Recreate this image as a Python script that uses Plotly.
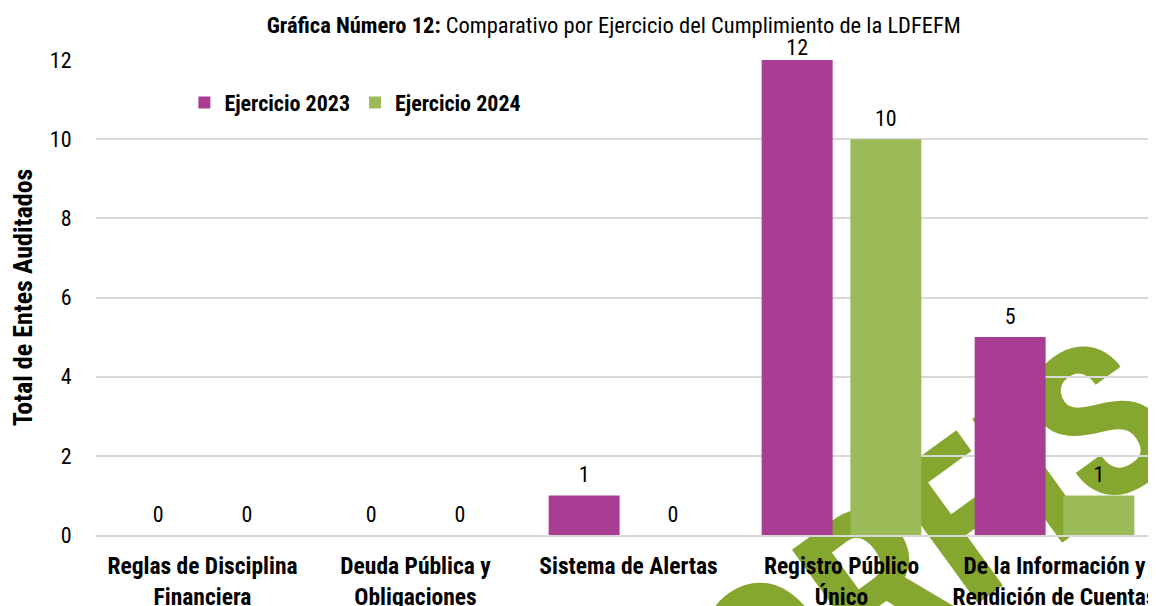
import plotly.graph_objects as go

categories = ["Reglas de Disciplina<br>Financiera", "Deuda Pública y<br>Obligaciones",
              "Sistema de Alertas", "Registro Público<br>Único",
              "De la Información y<br>Rendición de Cuentas"]
series_names = ["Ejercicio 2023", "Ejercicio 2024"]
vals_2023 = [0, 0, 1, 12, 5]
vals_2024 = [0, 0, 0, 10, 1]
y_ticks = [0, 2, 4, 6, 8, 10, 12]

FONT = "Roboto Condensed, Liberation Sans Narrow, sans-serif"
COL_2023 = "#A93D93"
COL_2024 = "#9BBB59"
BARGAP = 0.167
Y_MAX = 12

fig = go.Figure()
for name, vals, col in [(series_names[0], vals_2023, COL_2023), (series_names[1], vals_2024, COL_2024)]:
    fig.add_trace(go.Bar(name="<b>" + name + "</b>", x=categories, y=vals, marker_color=col,
                         marker_line_width=0, offsetgroup=name))
for name, vals in [(series_names[0], vals_2023), (series_names[1], vals_2024)]:
    # label offset: labels at the top of the axis sit right on the bar (kept inside the chart)
    sizes = [0 if v >= Y_MAX else 11 for v in vals]
    fig.add_trace(go.Scatter(x=categories, y=vals, mode="markers+text", text=[str(v) for v in vals],
                             textposition="top center", showlegend=False, hoverinfo="skip",
                             marker=dict(size=sizes, color="rgba(0,0,0,0)", opacity=0,
                                         line=dict(width=0, color="rgba(0,0,0,0)")),
                             textfont=dict(size=22, family=FONT, color="#000000"),
                             cliponaxis=False, offsetgroup=name))

# watermark (decorative, below gridlines and bars)
fig.add_shape(type="rect", xref="paper", yref="paper", x0=0.68, x1=0.88, y0=-0.19, y1=0.21,
              layer="below", line_width=0, fillcolor="rgba(0,0,0,0)",
              label=dict(text="<b>ORFIS</b>", textangle=-36, textposition="middle center",
                         font=dict(size=215, family=FONT, color="#86A72F")))

fig.update_layout(
    width=1156, height=606,
    margin=dict(l=88, r=3, t=52, b=74),
    plot_bgcolor="rgba(0,0,0,0)", paper_bgcolor="white",
    font=dict(family=FONT, size=22, color="#000000"),
    barmode="group", bargap=BARGAP, bargroupgap=0.2,
    scattermode="group", scattergap=BARGAP,
    title=dict(text="<b>Gráfica Número 12:</b> Comparativo por Ejercicio del Cumplimiento de la LDFEFM",
               x=0.524, xanchor="center", y=0.971, yanchor="middle",
               font=dict(size=22.5, family=FONT, color="#000000")),
    legend=dict(orientation="h", x=0.083, y=0.91, xanchor="left", yanchor="middle",
                font=dict(size=22, family=FONT, color="#000000"), bgcolor="rgba(0,0,0,0)",
                itemwidth=30, traceorder="normal"),
    showlegend=True,
)
fig.update_xaxes(tickfont=dict(size=23.5, family=FONT, color="#000000"),
                 showline=True, linecolor="#D9D9D9", linewidth=2,
                 ticks="outside", ticklen=9, tickcolor="rgba(0,0,0,0)",
                 tickprefix="<b>", ticksuffix="</b>", fixedrange=True)
fig.update_yaxes(range=[0, Y_MAX], tickvals=y_ticks, showgrid=True, gridcolor="#D9D9D9",
                 gridwidth=1.5, zeroline=False, ticks="outside", ticklen=19,
                 tickcolor="rgba(0,0,0,0)", tickfont=dict(size=22, family=FONT, color="#000000"),
                 title=dict(text="<b>Total de Entes Auditados</b>", standoff=14,
                            font=dict(size=26, family=FONT, color="#000000")))

fig.write_html("out.html")
